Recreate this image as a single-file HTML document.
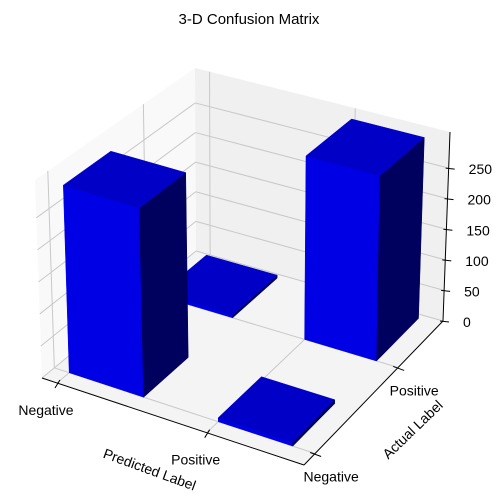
<!DOCTYPE html>
<html><head><meta charset="utf-8"><style>
html,body{margin:0;padding:0;background:#fff}
svg{display:block;font-family:"Liberation Sans","DejaVu Sans",sans-serif}
</style></head><body>
<svg id="chart" width="498" height="504" viewBox="0 0 498 504">
<text x="249" y="24" text-anchor="middle" font-size="15">3-D Confusion Matrix</text>
<g id="panes"></g>
<g id="grid"></g>
<g id="bars"></g>
<g id="axes"></g>
</svg>
<script>
const predictedCats = ["Negative", "Positive"];
const actualCats = ["Negative", "Positive"];
const counts = [[294, 5], [6, 296]]; // counts[pred][actual]
const zTicks = [0, 50, 100, 150, 200, 250];

const NS = "http://www.w3.org/2000/svg";
const XMIN = -0.10, XMAX = 1.65, YMIN = -0.134, YMAX = 1.54, ZMAX = 309;
const Lc = [42, 378], Fc = [304, 465], Rc = [443, 321], Bc = [196, 251];
const hL = 198, hF = 204, hR = 189, hB = 183;
const sL = -7, sF = -2, sR = 7, sB = -1;
function bil(u, v, a, f, r, b) { return (1-u)*(1-v)*a + u*(1-v)*f + u*v*r + (1-u)*v*b; }
function P(x, y, z) {
  const u = (x - XMIN) / (XMAX - XMIN), v = (y - YMIN) / (YMAX - YMIN);
  const bx = bil(u, v, Lc[0], Fc[0], Rc[0], Bc[0]);
  const by = bil(u, v, Lc[1], Fc[1], Rc[1], Bc[1]);
  const h = bil(u, v, hL, hF, hR, hB), s = bil(u, v, sL, sF, sR, sB);
  const t = z / ZMAX;
  return [bx + s * t, by - h * t];
}
function poly(g, pts, fill, name, stroke) {
  const p = document.createElementNS(NS, "polygon");
  p.setAttribute("points", pts.map(q => q[0].toFixed(1) + "," + q[1].toFixed(1)).join(" "));
  p.setAttribute("fill", fill);
  if (stroke) { p.setAttribute("stroke", stroke); p.setAttribute("stroke-width", "0.5"); }
  
  
  g.appendChild(p);
}
function line(g, a, b, color, w, name) {
  const l = document.createElementNS(NS, "line");
  l.setAttribute("x1", a[0]); l.setAttribute("y1", a[1]);
  l.setAttribute("x2", b[0]); l.setAttribute("y2", b[1]);
  l.setAttribute("stroke", color); l.setAttribute("stroke-width", w);
  
  
  g.appendChild(l);
}
function text(g, x, y, s, anchor, rot, name, size) {
  const t = document.createElementNS(NS, "text");
  t.setAttribute("x", x); t.setAttribute("y", y);
  t.setAttribute("text-anchor", anchor);
  t.setAttribute("font-size", size || 14);
  if (rot) t.setAttribute("transform", `rotate(${rot} ${x} ${y})`);
  t.textContent = s;
  
  
  g.appendChild(t);
}
const panes = document.getElementById("panes");
poly(panes, [P(XMIN,YMIN,0), P(XMIN,YMAX,0), P(XMIN,YMAX,ZMAX), P(XMIN,YMIN,ZMAX)], "#f9f9f9", "left-pane");
poly(panes, [P(XMIN,YMAX,0), P(XMAX,YMAX,0), P(XMAX,YMAX,ZMAX), P(XMIN,YMAX,ZMAX)], "#f0f0f0", "back-pane");
poly(panes, [P(XMIN,YMIN,0), P(XMAX,YMIN,0), P(XMAX,YMAX,0), P(XMIN,YMAX,0)], "#f4f4f4", "floor-pane");

const grid = document.getElementById("grid");
const gc = "#c8c8c8";
zTicks.forEach(z => {
  line(grid, P(XMIN,YMIN,z), P(XMIN,YMAX,z), gc, 1, "z-grid-left");
  line(grid, P(XMIN,YMAX,z), P(XMAX,YMAX,z), gc, 1, "z-grid-back");
});
predictedCats.forEach((c, i) => {
  line(grid, P(i,YMIN,0), P(i,YMAX,0), gc, 1, "x-grid-floor");
  line(grid, P(i,YMAX,0), P(i,YMAX,ZMAX), gc, 1, "x-grid-back");
});
actualCats.forEach((c, j) => {
  line(grid, P(XMIN,j,0), P(XMAX,j,0), gc, 1, "y-grid-floor");
  line(grid, P(XMIN,j,0), P(XMIN,j,ZMAX), gc, 1, "y-grid-left");
});

const bars = document.getElementById("bars");
const W = 0.5;
const order = [[0,1],[1,1],[0,0],[1,0]];
order.forEach(([i, j]) => {
  const x0 = i, x1 = i + W, y0 = j, y1 = j + W, h = counts[i][j];
  const g = document.createElementNS(NS, "g");
  
  
  bars.appendChild(g);
  poly(g, [P(x0,y0,0), P(x1,y0,0), P(x1,y0,h), P(x0,y0,h)], "#0000e4", "bar-front-face", "#0000e4");
  poly(g, [P(x1,y0,0), P(x1,y1,0), P(x1,y1,h), P(x1,y0,h)], "#00005e", "bar-side-face", "#00005e");
  poly(g, [P(x0,y0,h), P(x1,y0,h), P(x1,y1,h), P(x0,y1,h)], "#0000c6", "bar-top-face", "#0000c6");
});

const axes = document.getElementById("axes");
line(axes, P(XMIN,YMIN,0), P(XMAX,YMIN,0), "#000", 1, "x-axis-line");
line(axes, P(XMAX,YMIN,0), P(XMAX,YMAX,0), "#000", 1, "y-axis-line");
line(axes, P(XMAX,YMAX,0), P(XMAX,YMAX,ZMAX), "#000", 1, "z-axis-line");
predictedCats.forEach((c, i) => {
  const a = P(i, YMIN, 0);
  line(axes, [a[0]-2, a[1]+5], [a[0]+3, a[1]-3], "#000", 1, "x-tick");
  text(axes, a[0]-11, a[1]+32, c, "middle", 0, "x-tick-label");
});
actualCats.forEach((c, j) => {
  const a = P(XMAX, j, 0);
  line(axes, [a[0]-5, a[1]-1], [a[0]+6, a[1]+3], "#000", 1, "y-tick");
  text(axes, a[0]+16, a[1]+28, c, "middle", 0, "y-tick-label");
});
zTicks.forEach(z => {
  const a = P(XMAX, YMAX, z);
  line(axes, [a[0]-3, a[1]], [a[0]+6, a[1]+1], "#000", 1, "z-tick");
  text(axes, a[0]+20, a[1]+6, String(z), "start", 0, "z-tick-label");
});
text(axes, 148, 474, "Predicted Label", "middle", 20, "x-axis-title");
text(axes, 416, 433, "Actual Label", "middle", -44, "y-axis-title");
text(axes, 500, 212, "Count", "middle", 90, "z-axis-title");
</script>
</body></html>
